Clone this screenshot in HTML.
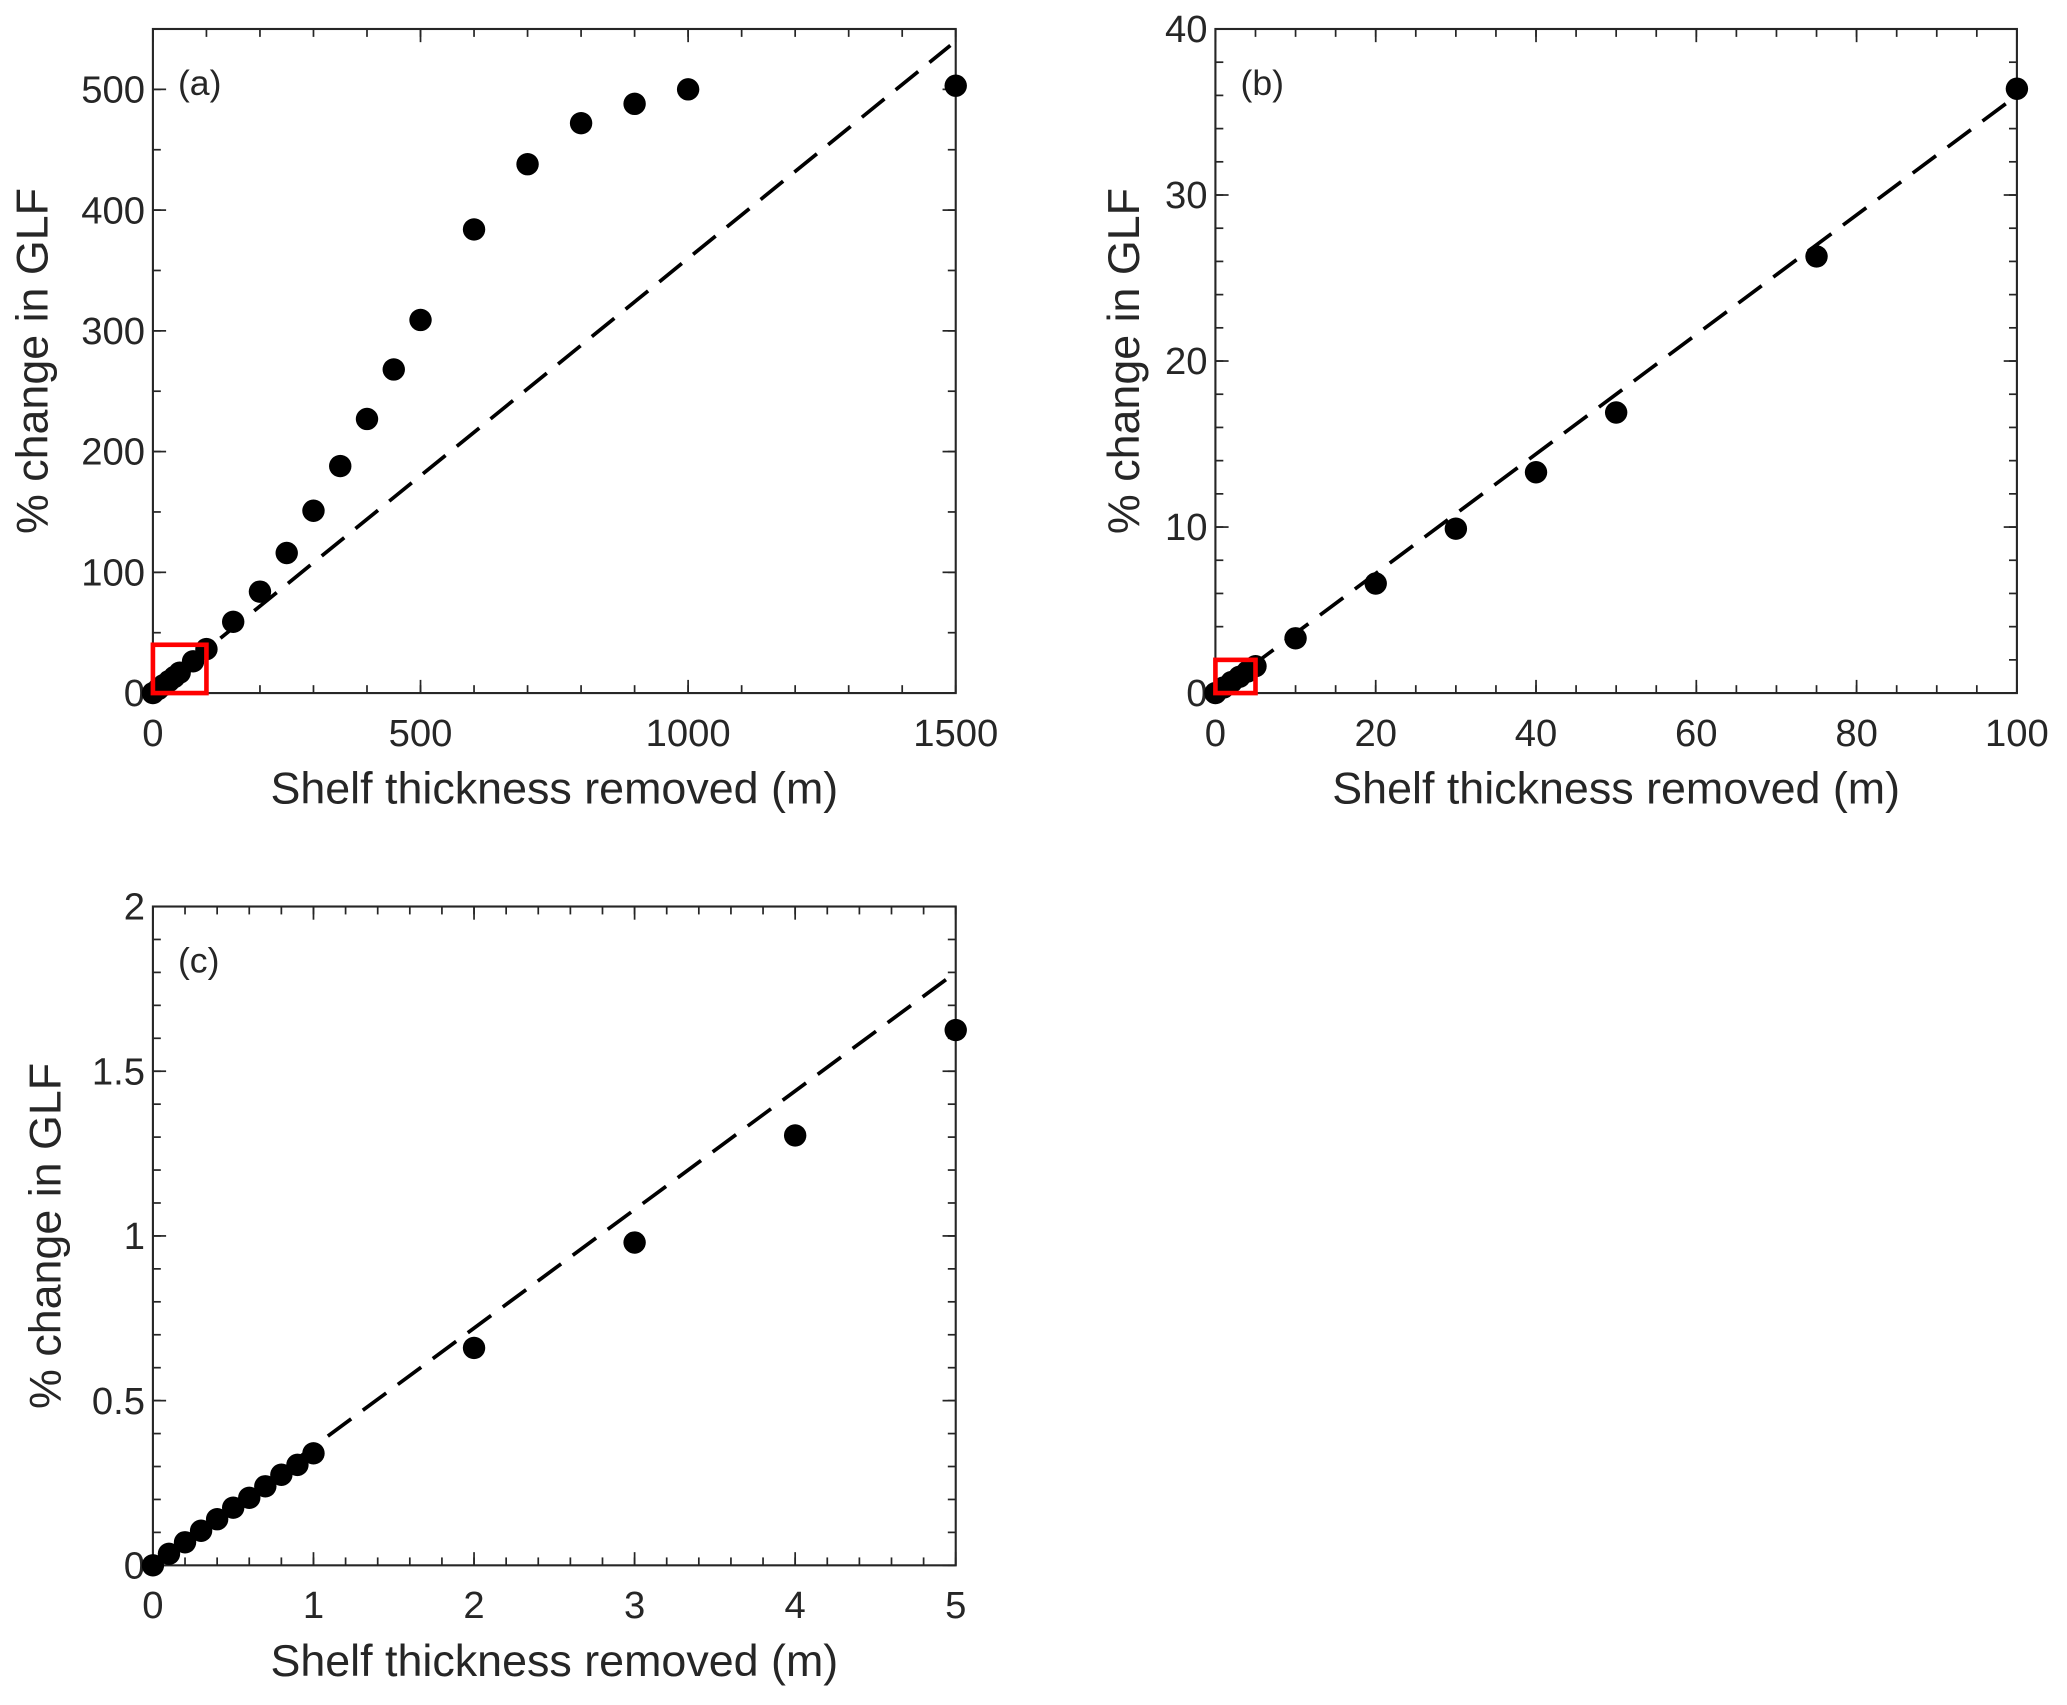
<!DOCTYPE html>
<html><head><meta charset="utf-8"><style>
html,body{margin:0;padding:0;background:#fff;}
svg{display:block;}
text{font-family:"Liberation Sans",Arial,sans-serif;fill:#262626;}
</style></head><body>
<svg id="fig" width="2067" height="1705" viewBox="0 0 1568 1294" preserveAspectRatio="none" xmlns="http://www.w3.org/2000/svg"></svg>
<script>
// Panel (a)
const xA = [0,10,20,30,40,50,75,100,150,200,250,300,350,400,450,500,600,700,800,900,1000,1500];
const yA = [0,3.3,6.6,9.9,13.3,16.9,26.3,36.4,59,84,116,151,188,227,268,309,384,438,472,488,500,503];
// Panel (b)
const xB = [0,1,2,3,4,5,10,20,30,40,50,75,100];
const yB = [0,0.33,0.66,0.98,1.3,1.62,3.3,6.6,9.9,13.3,16.9,26.3,36.4];
// Panel (c)
const xC = [0,0.1,0.2,0.3,0.4,0.5,0.6,0.7,0.8,0.9,1,2,3,4,5];
const yC = [0,0.035,0.07,0.105,0.14,0.175,0.205,0.24,0.275,0.305,0.34,0.66,0.98,1.305,1.625];
const slope = 0.36;
const xTicksA = [0,500,1000,1500], yTicksA = [0,100,200,300,400,500];
const xTicksB = [0,20,40,60,80,100], yTicksB = [0,10,20,30,40];
const xTicksC = [0,1,2,3,4,5], yTicksC = [0,0.5,1,1.5,2];
const yLabelsC = ['0','0.5','1','1.5','2'];

const NS='http://www.w3.org/2000/svg';
const svg=document.getElementById('fig');
function mk(tag,attrs,parent){const e=document.createElementNS(NS,tag);for(const k in attrs)e.setAttribute(k,attrs[k]);(parent||svg).appendChild(e);return e;}

function panel(o){
  const g=mk('g',{});
  
  
  const sx=v=>o.L+(v-o.x0)/(o.x1-o.x0)*(o.R-o.L);
  const sy=v=>o.B-(v-o.y0)/(o.y1-o.y0)*(o.B-o.T);
  const tl=10, tm=6;
  for(let v=o.x0;v<=o.x1+1e-9;v+=o.xm){const X=sx(v);
    mk('line',{x1:X,x2:X,y1:o.B,y2:o.B-tm,stroke:'#262626','stroke-width':1.3},g);
    mk('line',{x1:X,x2:X,y1:o.T,y2:o.T+tm,stroke:'#262626','stroke-width':1.3},g);}
  for(let v=o.y0;v<=o.y1+1e-9;v+=o.ym){const Y=sy(v);
    mk('line',{x1:o.L,x2:o.L+tm,y1:Y,y2:Y,stroke:'#262626','stroke-width':1.3},g);
    mk('line',{x1:o.R,x2:o.R-tm,y1:Y,y2:Y,stroke:'#262626','stroke-width':1.3},g);}
  o.xt.forEach(v=>{const X=sx(v);
    mk('line',{x1:X,x2:X,y1:o.B,y2:o.B-tl,stroke:'#262626','stroke-width':1.3},g);
    mk('line',{x1:X,x2:X,y1:o.T,y2:o.T+tl,stroke:'#262626','stroke-width':1.3},g);
    const t=mk('text',{x:X,y:o.B+40,'text-anchor':'middle','font-size':29},g);t.textContent=String(v);
    
    });
  o.yt.forEach((v,i)=>{const Y=sy(v);
    mk('line',{x1:o.L,x2:o.L+tl,y1:Y,y2:Y,stroke:'#262626','stroke-width':1.3},g);
    mk('line',{x1:o.R,x2:o.R-tl,y1:Y,y2:Y,stroke:'#262626','stroke-width':1.3},g);
    const t=mk('text',{x:o.L-6,y:Y+10,'text-anchor':'end','font-size':29},g);t.textContent=o.yl?o.yl[i]:String(v);
    
    });
  const box=mk('rect',{x:o.L,y:o.T,width:o.R-o.L,height:o.B-o.T,fill:'none',stroke:'#262626','stroke-width':1.6},g);
  
  
  const ln=mk('line',{x1:sx(0),y1:sy(0),x2:sx(o.lx),y2:sy(slope*o.lx),stroke:'#000','stroke-width':2.8,'stroke-dasharray':'22 11'},g);
  
  
  o.xs.forEach((v,i)=>{const c=mk('circle',{cx:sx(v),cy:sy(o.ys[i]),r:8.5,fill:'#000'},g);
    
    });
  if(o.box){const r=mk('rect',{x:sx(0),y:sy(o.box[1]),width:sx(o.box[0])-sx(0),height:sy(0)-sy(o.box[1]),fill:'none',stroke:'#ff0000','stroke-width':3.5},g);
    
    }
  const pl=mk('text',{x:o.L+19,y:o.T+50,'font-size':27,fill:'#000'},g);pl.textContent='('+o.id+')';
  
  
  const xl=mk('text',{x:(o.L+o.R)/2,y:o.B+84,'text-anchor':'middle','font-size':34},g);xl.textContent='Shelf thickness removed (m)';
  
  
  const cy=(o.T+o.B)/2, cx=o.L-o.ylo;
  const yl=mk('text',{x:cx,y:cy,'text-anchor':'middle','font-size':34,transform:'rotate(-90 '+cx+' '+cy+')'},g);yl.textContent='% change in GLF';
  
  
}
panel({id:'a',L:116,R:725,T:22,B:526,x0:0,x1:1500,y0:0,y1:550,xm:100,ym:50,xt:xTicksA,yt:yTicksA,xs:xA,ys:yA,lx:1490,box:[100,40],ylo:80});
panel({id:'b',L:922,R:1530,T:22,B:526,x0:0,x1:100,y0:0,y1:40,xm:5,ym:2,xt:xTicksB,yt:yTicksB,xs:xB,ys:yB,lx:100,box:[5,2],ylo:58});
panel({id:'c',L:116,R:725,T:688,B:1188,x0:0,x1:5,y0:0,y1:2,xm:0.2,ym:0.1,xt:xTicksC,yt:yTicksC,yl:yLabelsC,xs:xC,ys:yC,lx:5,ylo:70});
</script>
</body></html>
